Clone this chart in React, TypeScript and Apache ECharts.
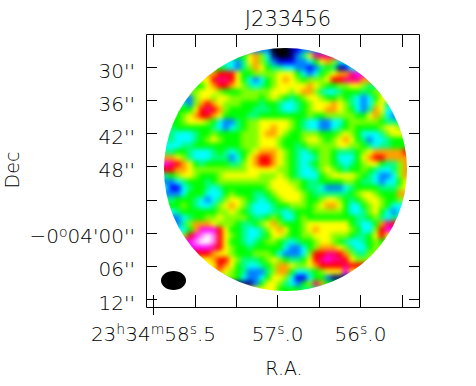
import React, { useEffect, useRef } from "react";
import * as echarts from "echarts";

const title = "J233456";
const xAxisName = "R.A.";
const yAxisName = "Dec";
const raTicks = [58.5, 58, 57.5, 57, 56.5, 56, 55.5];
const raLabels = ["23{s|h}34{s|m}58{s|s}.5", "", "", "57{s|s}.0", "", "56{s|s}.0", ""];
const decTicks = [30, 36, 42, 48, 54, 60, 66, 72];
const decLabels = ["30''", "36''", "42''", "48''", "", "\u22120{s|o}04'00''", "06''", "12''"];
const levelColors = ["#000000", "#000080", "#0000ff", "#0080ff", "#00ffff", "#00ff80", "#00ff00", "#80ff00", "#ffff00", "#ffa000", "#ff0000", "#ff0080", "#ff00ff", "#ff80ff", "#ffffff"];

// brightness level (hex digit) of each map cell, row by row, top to bottom, each row centred
const mapRows = [
  "3000123",
  "689741001358bbb",
  "4358975322233468974",
  "65435798655443323565124",
  "9aaa8667777888643467899bc",
  "8abba8643467898767778aabbb9",
  "689aa 98754 56788 88898 76677 8875",
  "78887 66677 77788 87899 75445 66656 7",
  "37887 88777 77678 76567 88766 76543 468",
  "5379a 98777 66656 65445 67888 98754 34785",
  "668ab a9766 66555 65445 67889 98764 35984",
  "6789a a9866 66556 66666 66766 77777 66897 43",
  "67888 76433 56778 88887 65443 34467 77776 55",
  "56666 66543 45677 88988 76544 33456 76666 7887",
  "54445 66766 66777 89987 66777 66678 76444 5788",
  "54445 67876 66777 88876 66788 76789 86534 4566",
  "44556 66666 66777 88876 65677 77788 77654 5566",
  "55665 44456 54567 89998 76545 67765 55678 99999 a",
  "99875 44455 53468 9aa98 76544 57764 44689 aa999 9",
  "cba98 65666 65578 9aa98 76545 67765 45678 86557 9",
  "aa998 77777 77778 88887 76544 57876 56676 54457 9",
  "56788 76667 88888 87778 76544 46788 88765 43347 9",
  "33456 66567 77777 77788 87765 56666 77655 43446 8",
  "42245 66545 66666 66788 88765 54333 45666 65557 8",
  "33466 64446 76665 56788 88765 55555 67887 6669",
  "56665 43457 88765 45678 88766 78876 56788 7667",
  "66765 44578 98754 44566 77767 89986 44678 7644",
  "4 56666 66778 76544 45545 66677 77764 45786 43 4",
  "34566 77877 77655 67644 67666 66666 55675 45",
  "33579 99877 76556 78976 66788 88888 65446 9ba",
  "469cc ca866 54457 89866 78988 88876 447ac",
  "7acde da876 54456 88766 77888 77765 568a8",
  "cdeed a8665 45677 65456 67887 65445 676",
  "cccba 87665 66666 43346 79998 75446 7",
  "aaa98 87666 77764 33347 aabba 9755 7",
  "89aa8 75556 78765 568ab cbba8 77",
  "8a986 54456 79987 789aa aabaa",
  "98765 33357 99644 56788 8c8",
  "76433 46887 42246 6311",
  "113688754367b96",
  "8866665",
];

// The map layer is softened and cut to the primary beam's circle, so the cells beyond
// each row's ends repeat that row's end cell: only the softening ever shows them.
const PAD = 3;
const SIZE = 41;
const parsedRows = mapRows.map((row) => row.replace(/ /g, "").split("").map((c) => parseInt(c, 16)));
const heatData: number[][] = [];
for (let r = -PAD; r < SIZE + PAD; r++) {
  const cells = parsedRows[Math.min(SIZE - 1, Math.max(0, r))];
  const start = 20 - Math.floor(cells.length / 2);
  for (let c = -PAD; c < SIZE + PAD; c++) {
    const i = Math.min(cells.length - 1, Math.max(0, c - start));
    heatData.push([c + PAD, r + PAD, cells[i]]);
  }
}
const cats = Array.from({ length: SIZE + 2 * PAD }, (_, i) => String(i));

const FONT = "'DejaVu Sans'";
const INK = "#000";
const supRich = { s: { fontFamily: FONT, fontWeight: 200, fontSize: 14, color: INK, verticalAlign: "top", padding: [0, 0, 9, 0] } };

export default function App() {
  const mapRef = useRef<HTMLDivElement>(null);
  const frameRef = useRef<HTMLDivElement>(null);
  useEffect(() => {
    const map = echarts.init(mapRef.current!, null, { renderer: "svg" });
    const frame = echarts.init(frameRef.current!, null, { renderer: "svg" });
    map.setOption({
      animation: false,
      grid: { left: 145, top: 29, width: 282, height: 282 },
      xAxis: { type: "category", data: cats, show: false },
      yAxis: { type: "category", data: cats, inverse: true, show: false },
      visualMap: { show: false, type: "continuous", min: 0, max: 14, dimension: 2, seriesIndex: 0, inRange: { color: levelColors } },
      series: [{ type: "heatmap", data: heatData, itemStyle: { borderWidth: 0 }, progressive: 0 }],
    });
    const tick = { show: true, inside: true, lineStyle: { color: "#000", width: 1 } };
    frame.setOption({
      animation: false,
      textStyle: { fontFamily: FONT },
      title: { text: title, left: 283, top: 3, textAlign: "center", textStyle: { fontFamily: FONT, fontWeight: 200, fontSize: 21, color: INK } },
      grid: [
        { left: 153.5, top: 34, width: 248.4, height: 274 },
        { left: 146, top: 67.5, width: 274, height: 231.5 },
      ],
      xAxis: [
        {
          type: "value", gridIndex: 0, position: "bottom", inverse: true, min: 55.5, max: 58.5, interval: 0.5,
          axisLine: { show: false }, splitLine: { show: false }, axisTick: { ...tick, length: 13 },
          axisLabel: {
            show: true, margin: 14, color: INK, fontFamily: FONT, fontWeight: 200, fontSize: 20, rich: supRich,
            formatter: (v: number) => raLabels[raTicks.indexOf(v)] ?? "",
          },
        },
        {
          type: "value", gridIndex: 0, position: "top", inverse: true, min: 55.5, max: 58.5, interval: 0.5,
          axisLine: { show: false }, splitLine: { show: false }, axisTick: { ...tick, length: 13 }, axisLabel: { show: false },
        },
        { type: "value", gridIndex: 1, show: false, min: 0, max: 1 },
      ],
      yAxis: [
        { type: "value", gridIndex: 0, show: false, min: 0, max: 1 },
        {
          type: "value", gridIndex: 1, position: "left", inverse: true, min: 30, max: 72, interval: 6,
          axisLine: { show: false }, splitLine: { show: false }, axisTick: { ...tick, length: 11 },
          axisLabel: {
            show: true, margin: 11, color: INK, fontFamily: FONT, fontWeight: 200, fontSize: 20, rich: supRich, padding: [7, 0, 0, 0],
            formatter: (v: number) => decLabels[decTicks.indexOf(v)] ?? "",
          },
        },
        {
          type: "value", gridIndex: 1, position: "right", inverse: true, min: 30, max: 72, interval: 6,
          axisLine: { show: false }, splitLine: { show: false }, axisTick: { ...tick, length: 11 }, axisLabel: { show: false },
        },
      ],
      graphic: [
        { type: "rect", silent: true, z: 50, shape: { x: 146.5, y: 34.5, width: 273, height: 273 }, style: { fill: "none", stroke: "#000", lineWidth: 1 } },
        { type: "line", silent: true, z: 50, shape: { x1: 153.5, y1: 308, x2: 153.5, y2: 315 }, style: { stroke: "#000", lineWidth: 1 } },
        { type: "ellipse", silent: true, z: 50, shape: { cx: 173.5, cy: 280.5, rx: 12.5, ry: 9.5 }, style: { fill: "#000" } },
        { type: "text", silent: true, z: 50, x: 284, y: 358, style: { text: xAxisName, fill: INK, fontFamily: FONT, fontWeight: 200, fontSize: 19, textAlign: "center" } },
        { type: "text", silent: true, z: 50, x: 12, y: 170, rotation: Math.PI / 2, style: { text: yAxisName, fill: INK, fontFamily: FONT, fontWeight: 200, fontSize: 19, textAlign: "center", textVerticalAlign: "middle" } },
      ],
    });
    return () => {
      map.dispose();
      frame.dispose();
    };
  }, []);
  const layer: React.CSSProperties = { position: "absolute", left: 0, top: 0, width: 476, height: 386 };
  return (
    <div style={{ ...layer, background: "#fff" }}>
      <div ref={mapRef} style={{ ...layer, filter: "blur(2.4px)", clipPath: "circle(121.5px at 285.5px 169.5px)" }} />
      <div ref={frameRef} style={layer} />
    </div>
  );
}
